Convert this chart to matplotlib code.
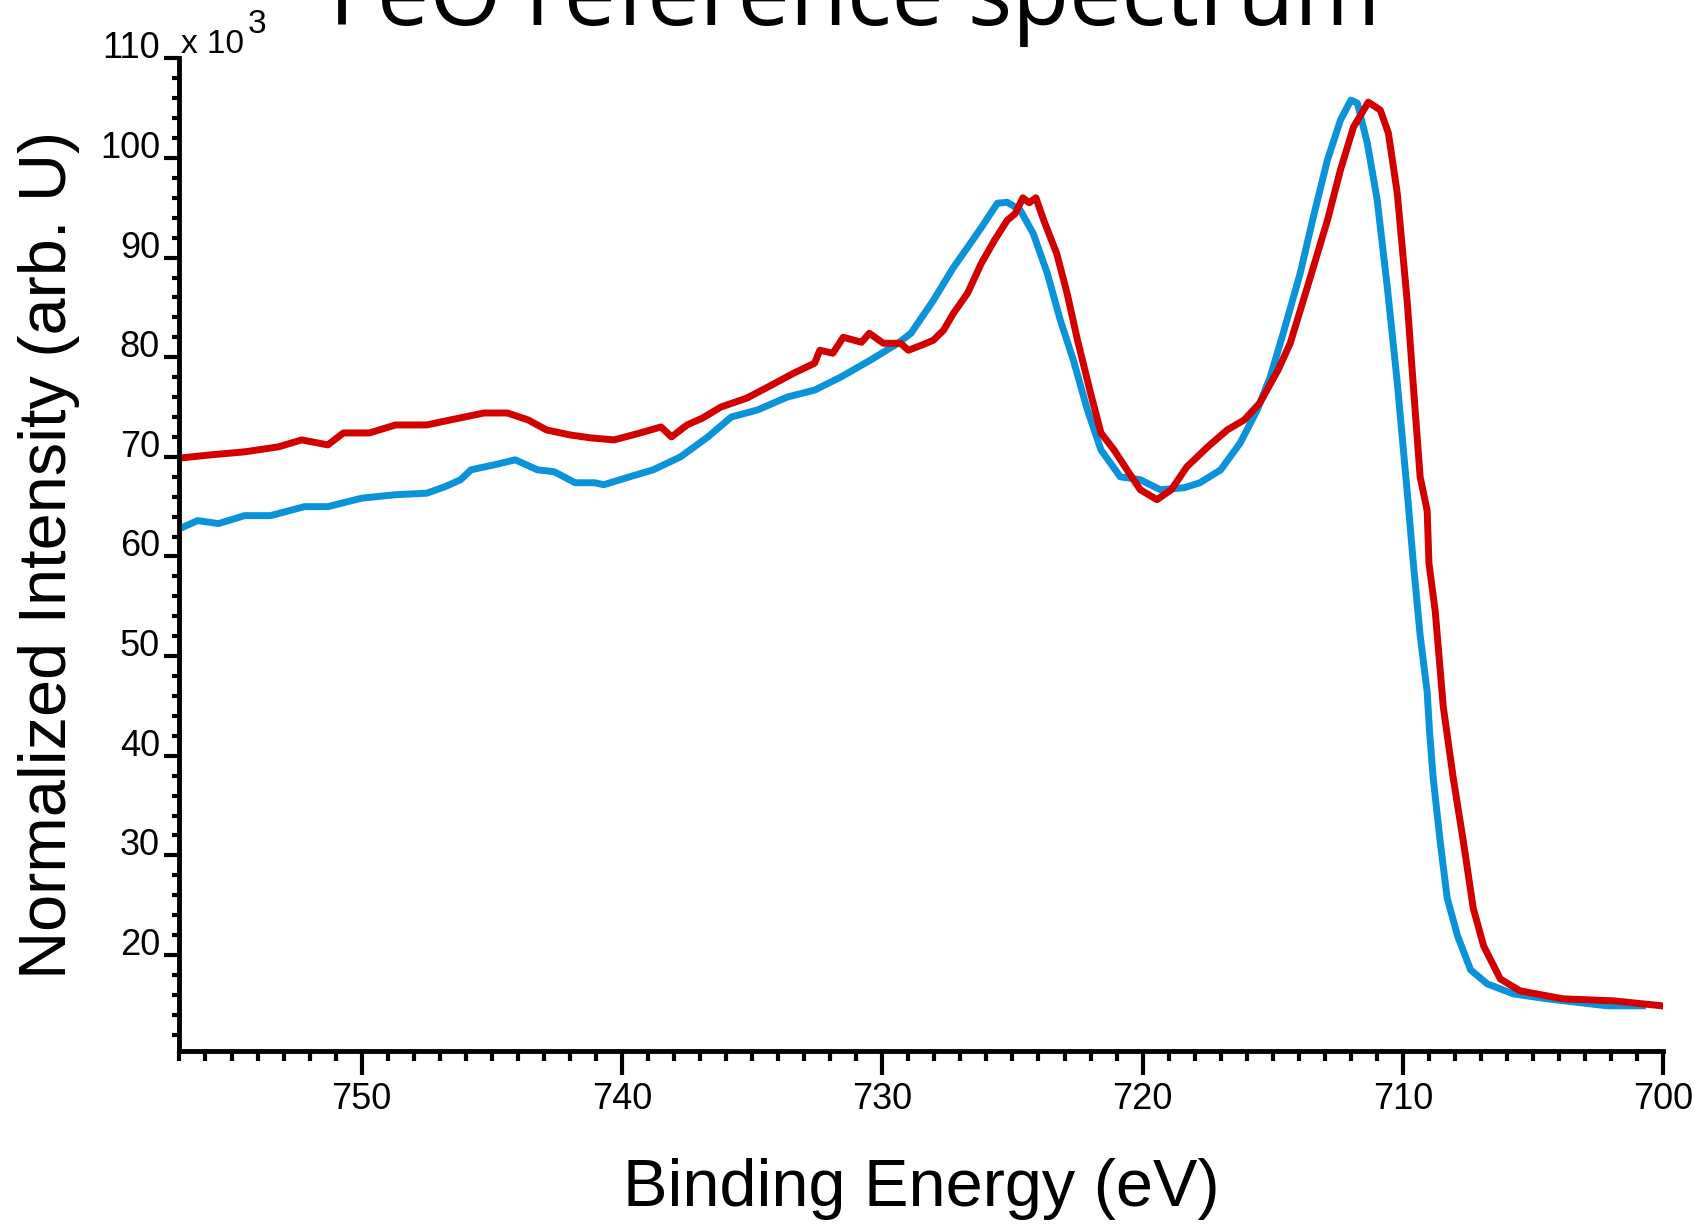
import numpy as np
import matplotlib
matplotlib.use("Agg")
import matplotlib.pyplot as plt
from matplotlib.ticker import MultipleLocator

# FeO Fe 2p XPS, intensities in units of 10^3
blue_energy = [756.9, 756.3, 755.5, 754.5, 753.5, 752.2, 751.3, 750.0, 748.7, 747.5,
               746.8, 746.2, 745.8, 744.9, 744.1, 743.25, 742.6, 741.8, 741.05, 740.7,
               739.7, 738.8, 737.75, 736.7, 735.8, 734.8, 733.65, 732.6, 731.6, 730.46,
               729.4, 728.9, 728.04, 727.27, 726.73, 726.2, 725.58, 725.2, 724.7, 724.2,
               723.66, 723.16, 722.66, 722.12, 721.6, 720.86, 720.09, 719.32, 718.4, 717.8,
               717.0, 716.25, 715.6, 715.1, 714.6, 713.95, 713.45, 712.9, 712.4, 712.0,
               711.75, 711.37, 710.99, 710.6, 710.22, 709.84, 709.6, 709.34, 709.07, 708.98,
               708.84, 708.57, 708.3, 707.9, 707.4, 706.76, 705.76, 704.46, 702.15, 700.8]
blue_counts = [62.9, 63.6, 63.3, 64.1, 64.1, 65.0, 65.0, 65.85, 66.2, 66.35,
               67.0, 67.7, 68.7, 69.2, 69.7, 68.7, 68.5, 67.4, 67.4, 67.2,
               68.0, 68.7, 70.0, 72.0, 74.0, 74.7, 76.0, 76.7, 78.0, 79.7,
               81.4, 82.4, 85.7, 89.0, 91.0, 93.0, 95.45, 95.55, 94.75, 92.4,
               88.4, 83.7, 79.7, 74.7, 70.7, 68.0, 67.7, 66.7, 66.9, 67.4,
               68.7, 71.4, 74.7, 78.0, 82.4, 88.4, 94.0, 99.8, 103.8, 105.8,
               105.5, 101.5, 95.8, 87.0, 77.5, 66.6, 59.3, 52.1, 46.4, 42.5,
               37.8, 31.4, 25.7, 21.9, 18.5, 17.1, 16.1, 15.6, 14.9, 14.9]

red_energy = [756.9, 755.8, 754.5, 753.2, 752.3, 751.3, 750.7, 749.7, 748.7, 747.5,
              746.6, 745.3, 744.4, 743.6, 742.9, 742.0, 741.2, 740.3, 739.3, 738.5,
              738.1, 737.5, 736.9, 736.2, 735.2, 734.4, 733.4, 732.6, 732.4, 731.9,
              731.5, 730.8, 730.5, 729.96, 729.3, 729.0, 728.5, 728.04, 727.65, 727.27,
              726.73, 726.2, 725.7, 725.2, 724.9, 724.6, 724.36, 724.1, 723.8, 723.3,
              722.9, 722.5, 722.0, 721.6, 721.1, 720.6, 720.09, 719.45, 718.9, 718.3,
              717.5, 716.75, 716.1, 715.5, 714.8, 714.33, 713.56, 712.9, 712.4, 711.9,
              711.33, 710.87, 710.56, 710.22, 709.84, 709.6, 709.34, 709.07, 709.0, 708.76,
              708.45, 708.07, 707.68, 707.3, 706.9, 706.26, 705.5, 703.85, 701.9, 700.05]
red_counts = [69.9, 70.2, 70.5, 71.0, 71.7, 71.2, 72.4, 72.4, 73.2, 73.2,
              73.7, 74.4, 74.4, 73.7, 72.7, 72.2, 71.9, 71.7, 72.4, 73.0,
              72.0, 73.2, 73.9, 75.0, 75.9, 77.0, 78.4, 79.4, 80.7, 80.4,
              82.0, 81.5, 82.4, 81.4, 81.4, 80.7, 81.2, 81.7, 82.7, 84.4,
              86.4, 89.4, 91.7, 93.75, 94.4, 96.0, 95.5, 96.0, 93.75, 90.4,
              86.4, 81.7, 76.4, 72.4, 70.7, 68.7, 66.7, 65.7, 66.7, 69.0,
              71.0, 72.7, 73.7, 75.4, 78.7, 81.4, 88.0, 93.75, 98.8, 103.1,
              105.6, 104.8, 102.5, 96.5, 85.7, 77.1, 68.0, 64.6, 59.3, 54.5,
              44.9, 37.8, 31.4, 24.7, 20.9, 17.6, 16.4, 15.6, 15.4, 14.9]

x_ticks = [750, 740, 730, 720, 710, 700]
y_ticks = [20, 30, 40, 50, 60, 70, 80, 90, 100, 110]

plt.rcParams['font.family'] = ['Liberation Sans', 'DejaVu Sans']

fig = plt.figure(figsize=(16.96, 12.25), dpi=100)
ax = fig.add_axes([0.1058, 0.142, 0.9807 - 0.1058, 0.9524 - 0.142])

ax.plot(blue_energy, blue_counts, color='#0a93d8', lw=5, solid_joinstyle='round')
ax.plot(red_energy, red_counts, color='#d20000', lw=5, solid_joinstyle='round')

ax.set_xlim(757.0, 700)
ax.set_ylim(10.36, 110)

for side in ['top', 'right']:
    ax.spines[side].set_visible(False)
for side in ['left', 'bottom']:
    ax.spines[side].set_linewidth(3.5)

ax.set_xticks(x_ticks)
ax.xaxis.set_minor_locator(MultipleLocator(1))
ax.set_yticks(y_ticks)
ax.yaxis.set_minor_locator(MultipleLocator(2))

ax.tick_params(axis='x', which='major', length=17, width=3, direction='out', labelsize=26, pad=5)
ax.tick_params(axis='x', which='minor', length=7, width=3, direction='out')
ax.tick_params(axis='y', which='major', length=11, width=3, direction='out', labelsize=26, pad=3)
ax.tick_params(axis='y', which='minor', length=5, width=3, direction='out')

for t in ax.get_yticklabels():
    t.set_verticalalignment('baseline')

ax.set_xlabel('Binding Energy (eV)', fontsize=48, labelpad=30)
ax.set_ylabel('Normalized Intensity (arb. U)', fontsize=48, labelpad=14)

fig.text(181 / 1696, 1 - 53 / 1225, 'x 10', fontsize=24, va='baseline', ha='left')
fig.text(248 / 1696, 1 - 33 / 1225, '3', fontsize=24, va='baseline', ha='left')

fig.text(0.504, 1 - 25 / 1225, 'FeO reference spectrum', fontsize=67,
         family=['Open Sans', 'DejaVu Sans'], ha='center', va='baseline')

fig.savefig('out.png', dpi=100)
